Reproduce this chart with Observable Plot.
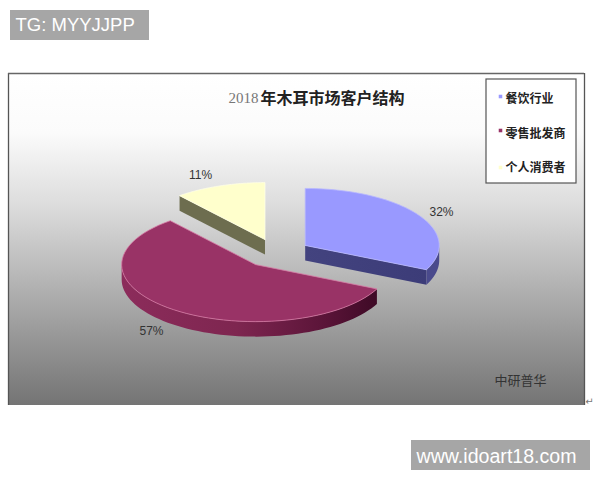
<!DOCTYPE html>
<html><head><meta charset="utf-8">
<script src="https://cdn.jsdelivr.net/npm/d3@7"></script>
<script src="https://cdn.jsdelivr.net/npm/@observablehq/plot@0.6"></script>
<style>html,body{margin:0;padding:0;background:#fff}svg{display:block}</style>
</head><body><div id="chart"></div>
<script>
const categories = ["餐饮行业", "零售批发商", "个人消费者"];
const shares = [32, 57, 11];
const shareLabels = ["32%", "57%", "11%"];
const topColors = ["#9999ff", "#993366", "#ffffcc"];
const edgeColors = ["#b9b9ff", "#d77aa5", "#ffffe6"];
const wallFills = ["url(#wallBlue)", "url(#wallRed)", "#6d6d4f"];
const legendMarkerRows = [96, 130, 167];
const legendTextRows = [99, 134, 168];
const titleYear = "2018";
const titleText = "年木耳市场客户结构";
const sourceText = "中研普华";
const badgeTop = "TG: MYYJJPP";
const badgeBottom = "www.idoart18.com";

// pie geometry (pixel space of the picture)
const cx = 276, cy = 252.7, rx = 134, ry = 57, depth = 15, explode = 34;
const total = d3.sum(shares);
const rad = d => d * 2 * Math.PI / total;
let acc = 0;
const slices = shares.map((v, i) => {
  const a0 = rad(acc), a1 = rad(acc + v); acc += v;
  const mid = (a0 + a1) / 2;
  return {i, a0, a1, cx: cx + explode * Math.sin(mid), cy: cy - explode * ry / rx * Math.cos(mid)};
});
const at = (s, a, dz = 0) => ({x: s.cx + rx * Math.sin(a), y: s.cy - ry * Math.cos(a) + dz});
const arcPts = (s, a0, a1, dz = 0) => d3.range(0, 61).map(k => at(s, a0 + (a1 - a0) * k / 60, dz));
const apex = (s, dz = 0) => ({x: s.cx, y: s.cy + dz});
const tops = slices.map(s => [apex(s), ...arcPts(s, s.a0, s.a1), apex(s)]);
const [sb, sr, sy] = slices;
// outer walls and radial walls that face the viewer
const wallPolys = [
  [{f: wallFills[0], pts: [apex(sb), at(sb, sb.a1), at(sb, sb.a1, depth), apex(sb, depth)]},
   {f: "#4a4a8c", pts: [...arcPts(sb, Math.PI / 2, sb.a1), ...arcPts(sb, sb.a1, Math.PI / 2, depth)]}],
  [{f: wallFills[1], pts: [...arcPts(sr, sr.a0, 3 * Math.PI / 2), ...arcPts(sr, 3 * Math.PI / 2, sr.a0, depth)]}],
  [{f: wallFills[2], pts: [apex(sy), at(sy, sy.a0), at(sy, sy.a0, depth), apex(sy, depth)]}]
].flat();

const labelPos = [{x: 441, y: 212}, {x: 151, y: 331}, {x: 200, y: 175}];
const cjk = "'Noto Sans CJK SC','Noto Sans',sans-serif";
const latin = "'Liberation Sans',Arial,sans-serif";

const defs = () => d3.create("svg:defs").html(`
  <linearGradient id="panel" x1="0" y1="0" x2="0" y2="1">
    <stop offset="0" stop-color="#ffffff"/><stop offset="0.18" stop-color="#fbfbfb"/>
    <stop offset="0.4" stop-color="#dcdcdc"/><stop offset="0.7" stop-color="#a8a8a8"/>
    <stop offset="1" stop-color="#747474"/></linearGradient>
  <linearGradient id="wallRed" x1="0" y1="0" x2="1" y2="0">
    <stop offset="0" stop-color="#8c2c5b"/><stop offset="0.45" stop-color="#7e2650"/>
    <stop offset="0.8" stop-color="#5a1438"/><stop offset="1" stop-color="#3e0a26"/></linearGradient>
  <linearGradient id="wallBlue" x1="0" y1="0" x2="1" y2="0">
    <stop offset="0" stop-color="#43437f"/><stop offset="1" stop-color="#3c3c78"/></linearGradient>
`).node();

const poly = (pts, fill, extra = {}) => Plot.line(pts, {x: "x", y: "y", fill, stroke: "none", curve: "linear", ...extra});

const plot = Plot.plot({
  width: 600, height: 480, margin: 0,
  x: {domain: [0, 600], range: [0, 600], axis: null},
  y: {domain: [0, 480], range: [0, 480], axis: null},
  marks: [
    defs,
    // panel
    Plot.rect([{}], {x1: 8, x2: 584, y1: 73, y2: 405, fill: "url(#panel)"}),
    Plot.ruleX([8, 584], {y1: 73, y2: 405, stroke: "#555", strokeWidth: 1.3}),
    Plot.ruleY([73], {x1: 8, x2: 584, stroke: "#666", strokeWidth: 1.3}),
    // legend
    Plot.rect([{}], {x1: 486, x2: 576, y1: 79, y2: 183, fill: "#fff", stroke: "#555", strokeWidth: 1.2}),
    Plot.dot(categories, {x: 500, y: (d, i) => legendMarkerRows[i], r: 2, symbol: "square", fill: (d, i) => topColors[i]}),
    Plot.text(categories, {x: 505, y: (d, i) => legendTextRows[i], text: d => d, textAnchor: "start", fontSize: 12, fontWeight: "bold", fontFamily: cjk, fill: "#222"}),
    // title
    Plot.text([titleYear], {x: 228, y: 98, text: d => d, textAnchor: "start", fontSize: 15, fontFamily: "'Liberation Serif',serif", fill: "#777"}),
    Plot.text([titleText], {x: 260, y: 98, text: d => d, textAnchor: "start", fontSize: 16, fontWeight: "bold", fontFamily: cjk, fill: "#222"}),
    // pie
    ...wallPolys.map(w => poly(w.pts, w.f)),
    ...tops.map((t, i) => poly(t, topColors[i], {stroke: edgeColors[i], strokeWidth: 0.8})),
    Plot.text(shareLabels, {x: (d, i) => labelPos[i].x, y: (d, i) => labelPos[i].y, text: d => d, fontSize: 12, fontFamily: latin, fill: "#333"}),
    // source
    Plot.text([sourceText], {x: 520, y: 380, text: d => d, fontSize: 13, fontFamily: cjk, fill: "#333"}),
    Plot.text(["↵"], {x: 589, y: 401, text: d => d, fontSize: 10, fill: "#777", fontFamily: "'DejaVu Sans'"}),
    // badges
    Plot.rect([{}], {x1: 10, x2: 149, y1: 10, y2: 40, fill: "#a6a6a6"}),
    Plot.text([badgeTop], {x: 15, y: 25, text: d => d, textAnchor: "start", fontSize: 18.5, fontFamily: latin, fill: "#fff"}),
    Plot.rect([{}], {x1: 411, x2: 590, y1: 440, y2: 470, fill: "#a6a6a6"}),
    Plot.text([badgeBottom], {x: 416, y: 456, text: d => d, textAnchor: "start", fontSize: 19.6, fontFamily: latin, fill: "#fff"})
  ]
});
document.getElementById("chart").append(plot);
</script></body></html>
